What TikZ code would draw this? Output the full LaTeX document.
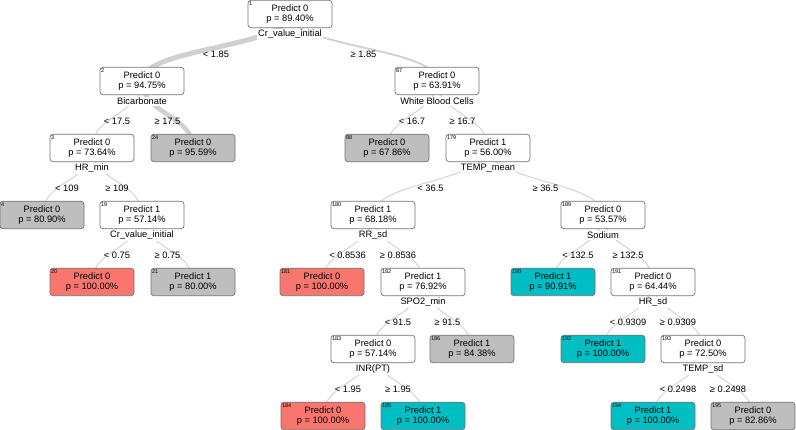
\documentclass[tikz,border=0pt]{standalone}
\usepackage{fontspec}
\setmainfont{Liberation Sans}
\usetikzlibrary{calc}
\pgfdeclarelayer{bg}
\pgfsetlayers{bg,main}
\definecolor{boxborder}{RGB}{115,115,115}
\definecolor{leafgray}{RGB}{190,190,190}
\definecolor{leafred}{RGB}{248,118,109}
\definecolor{leafcyan}{RGB}{0,191,196}
\definecolor{edgegray}{RGB}{208,208,208}
\tikzset{
  tbox/.style={draw=boxborder, rounded corners=3pt, minimum width=84pt, minimum height=27.5pt,
    inner sep=0pt, align=center, font=\fontsize{9.3}{10}\selectfont, line width=0.7pt},
  innerbox/.style={tbox, fill=white},
  graybox/.style={tbox, fill=leafgray},
  redbox/.style={tbox, fill=leafred},
  cyanbox/.style={tbox, fill=leafcyan},
  varlab/.style={font=\fontsize{9.3}{10}\selectfont, fill=white, inner sep=0.8pt},
  idlab/.style={font=\fontsize{5.5}{6}\selectfont, anchor=north west, inner sep=0pt},
  elab/.style={font=\fontsize{9.3}{10}\selectfont, inner sep=0pt},
  treeedge/.style={draw=edgegray, line width=0.9pt},
}
\newcommand\tn[6]{%
  \node[#1] (n#2) at (#3,#4) {Predict #5\\p = #6\%};
  \node[idlab] (id#2) at ($(n#2.north west)+(1.2,1.3)$) {#2};}
\newcommand\vl[2]{\node[varlab] (v#1) at ($(n#1.center)+(0,20.5)$) {#2};}
\newcommand\te[4]{%
  \draw[treeedge, line width=#4] let \p1=(n#1.center), \p2=(n#2.center) in
    (\p1) .. controls (\x1,{(\y1+\y2)/2}) and (\x2,{(\y1+\y2)/2}) .. (\p2)
    node[elab, pos=0.5, yshift=-6.5pt] (e#2) {#3};}
\begin{document}
\begin{tikzpicture}[x=1pt,y=-1pt]
\useasboundingbox (0,0) rectangle (796,430);
% level 1
\tn{innerbox}{1}{290}{14}{0}{89.40}
% level 2
\tn{innerbox}{2}{142}{81}{0}{94.75}
\tn{innerbox}{87}{437}{81}{0}{63.91}
% level 3
\tn{innerbox}{3}{92}{148}{0}{73.64}
\tn{graybox}{24}{193}{148}{0}{95.59}
\tn{graybox}{88}{387}{148}{0}{67.86}
\tn{innerbox}{179}{488}{148}{1}{56.00}
% level 4
\tn{graybox}{4}{42}{215}{0}{80.90}
\tn{innerbox}{19}{142}{215}{1}{57.14}
\tn{innerbox}{180}{373}{215}{1}{68.18}
\tn{innerbox}{189}{603}{215}{0}{53.57}
% level 5
\tn{redbox}{20}{92}{282}{0}{100.00}
\tn{graybox}{21}{193}{282}{1}{80.00}
\tn{redbox}{181}{322}{282}{0}{100.00}
\tn{innerbox}{182}{423}{282}{1}{76.92}
\tn{cyanbox}{190}{553}{282}{1}{90.91}
\tn{innerbox}{191}{653}{282}{0}{64.44}
% level 6
\tn{innerbox}{183}{373}{349}{0}{57.14}
\tn{graybox}{186}{472}{349}{1}{84.38}
\tn{cyanbox}{192}{603}{349}{1}{100.00}
\tn{innerbox}{193}{703}{349}{0}{72.50}
% level 7
\tn{redbox}{184}{323}{416}{0}{100.00}
\tn{cyanbox}{185}{423}{416}{1}{100.00}
\tn{cyanbox}{194}{653}{416}{1}{100.00}
\tn{graybox}{195}{753}{416}{0}{82.86}
% split variables
\vl{1}{Cr\_value\_initial}
\vl{2}{Bicarbonate}
\vl{87}{White Blood Cells}
\vl{3}{HR\_min}
\vl{179}{TEMP\_mean}
\vl{19}{Cr\_value\_initial}
\vl{180}{RR\_sd}
\vl{189}{Sodium}
\vl{182}{SPO2\_min}
\vl{191}{HR\_sd}
\vl{183}{INR(PT)}
\vl{193}{TEMP\_sd}
% edges
\begin{pgfonlayer}{bg}
\te{1}{2}{< 1.85}{5pt}
\te{1}{87}{≥ 1.85}{1.8pt}
\te{2}{3}{< 17.5}{0.9pt}
\te{2}{24}{≥ 17.5}{4.5pt}
\te{87}{88}{< 16.7}{0.9pt}
\te{87}{179}{≥ 16.7}{0.9pt}
\te{3}{4}{< 109}{0.9pt}
\te{3}{19}{≥ 109}{0.9pt}
\te{179}{180}{< 36.5}{0.9pt}
\te{179}{189}{≥ 36.5}{0.9pt}
\te{19}{20}{< 0.75}{0.9pt}
\te{19}{21}{≥ 0.75}{0.9pt}
\te{180}{181}{< 0.8536}{0.9pt}
\te{180}{182}{≥ 0.8536}{0.9pt}
\te{189}{190}{< 132.5}{0.9pt}
\te{189}{191}{≥ 132.5}{0.9pt}
\te{182}{183}{< 91.5}{0.9pt}
\te{182}{186}{≥ 91.5}{0.9pt}
\te{191}{192}{< 0.9309}{0.9pt}
\te{191}{193}{≥ 0.9309}{0.9pt}
\te{183}{184}{< 1.95}{0.9pt}
\te{183}{185}{≥ 1.95}{0.9pt}
\te{193}{194}{< 0.2498}{0.9pt}
\te{193}{195}{≥ 0.2498}{0.9pt}
\end{pgfonlayer}
\end{tikzpicture}
\end{document}
